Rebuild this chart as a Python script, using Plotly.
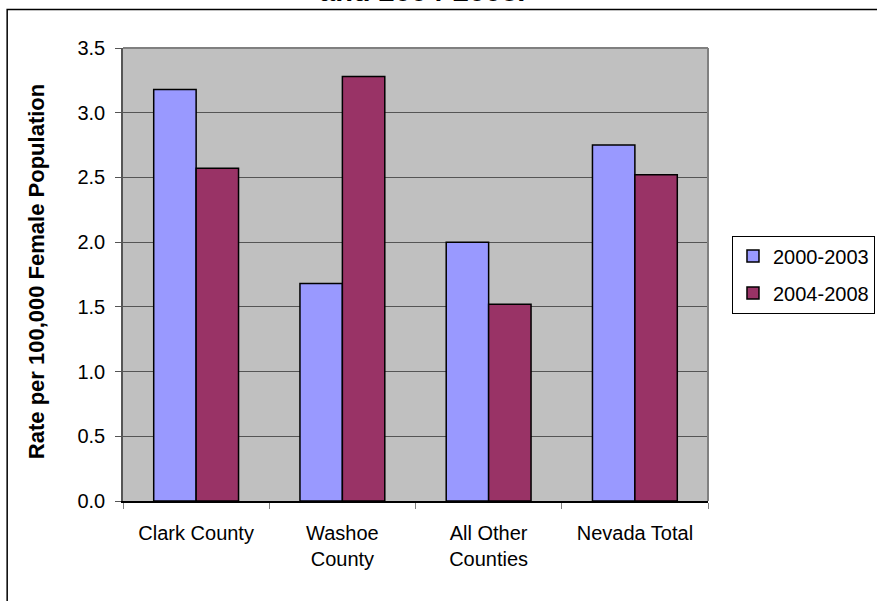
import plotly.graph_objects as go

categories = ["Clark County", "Washoe<br>County", "All Other<br>Counties", "Nevada Total"]
rates_2000_2003 = [3.18, 1.68, 2.00, 2.75]
rates_2004_2008 = [2.57, 3.28, 1.52, 2.52]
y_ticks = [0.0, 0.5, 1.0, 1.5, 2.0, 2.5, 3.0, 3.5]

FONT = "Liberation Sans, Arial, sans-serif"

fig = go.Figure()
fig.add_trace(go.Bar(
    name="2000-2003", x=categories, y=rates_2000_2003, legendgroup="a",
    marker=dict(color="#9999FF", line=dict(color="#000000", width=1.5)),
))
fig.add_trace(go.Bar(
    name="2004-2008", x=categories, y=rates_2004_2008, legendgroup="b",
    marker=dict(color="#993366", line=dict(color="#000000", width=1.5)),
))

fig.update_layout(
    width=877, height=601,
    margin=dict(l=123, r=169, t=48, b=100, autoexpand=False),
    paper_bgcolor="#FFFFFF",
    plot_bgcolor="#C0C0C0",
    barmode="group",
    bargap=0.42,
    bargroupgap=0,
    font=dict(family=FONT, size=20, color="#000000"),
    showlegend=True,
    legend=dict(
        x=1.041, xref="paper", xanchor="left",
        y=0.5, yanchor="middle",
        bgcolor="#FFFFFF", bordercolor="#000000", borderwidth=1,
        font=dict(family=FONT, size=20, color="#000000"),
        itemwidth=30, tracegroupgap=8,
    ),
    xaxis=dict(
        showgrid=False, ticks="outside", tickson="boundaries", ticklen=6,
        tickcolor="#808080", showline=True, linecolor="#000000", linewidth=1.5,
        mirror=False, tickfont=dict(family=FONT, size=20),
        ticklabelstandoff=13,
    ),
    yaxis=dict(
        range=[0, 3.5], tickvals=y_ticks, ticktext=[f"{v:.1f}" for v in y_ticks],
        showgrid=True, gridcolor="#555555", gridwidth=1,
        ticks="outside", ticklen=6, tickcolor="#555555",
        showline=True, linecolor="#555555", linewidth=1.5,
        zeroline=False, tickfont=dict(family=FONT, size=20),
        ticklabelstandoff=6,
    ),
    annotations=[
        dict(text="<b>Rate per 100,000 Female Population</b>", textangle=-90,
             xref="paper", yref="paper", x=-0.149, y=0.507,
             xanchor="center", yanchor="middle", showarrow=False,
             font=dict(family=FONT, size=22, color="#000000")),
        dict(text="<b>and 2004-2008.</b>", xref="paper", yref="paper",
             x=0.511, y=1.087, xanchor="center", yanchor="bottom", showarrow=False,
             font=dict(family=FONT, size=29, color="#000000")),
    ],
    shapes=[
        # plot area frame (top and right sides)
        dict(type="line", xref="paper", yref="paper", x0=0, x1=1, y0=1, y1=1,
             line=dict(color="#808080", width=2)),
        dict(type="line", xref="paper", yref="paper", x0=1, x1=1, y0=0, y1=1,
             line=dict(color="#808080", width=2)),
        # outer chart border
        dict(type="rect", xref="paper", yref="paper", x0=-0.198, x1=1.5,
             y0=-0.5, y1=1.085, line=dict(color="#000000", width=1.5),
             layer="below"),
    ],
)

fig.write_html("out.html")
